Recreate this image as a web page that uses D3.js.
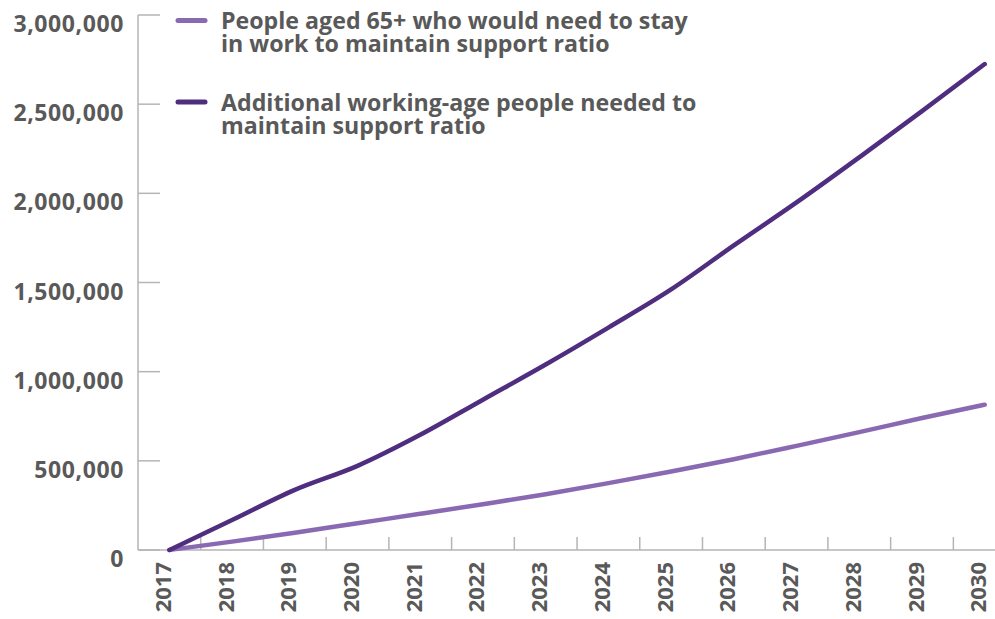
<!DOCTYPE html>
<html>
<head>
<meta charset="utf-8">
<script src="https://cdn.jsdelivr.net/npm/d3@7"></script>
<style>
  html, body { margin: 0; padding: 0; background: #fff; }
  svg { display: block; }
  text { font-family: "Open Sans", "DejaVu Sans", sans-serif; font-weight: 700; fill: #595959; }
</style>
</head>
<body>
<svg id="chart" width="995" height="619"></svg>
<script>
// Years on the horizontal axis
const years = ["2017","2018","2019","2020","2021","2022","2023","2024","2025","2026","2027","2028","2029","2030"];

// People aged 65+ who would need to stay in work
const olderWorkers = [0, 47000, 97000, 150000, 203000, 257000, 313000, 375000, 440000, 509000, 584000, 661000, 740000, 815000];

// Additional working-age people needed
const workingAge = [0, 168000, 337000, 472000, 646000, 843000, 1040000, 1247000, 1461000, 1708000, 1949000, 2202000, 2461000, 2725000];

const yTicks = [0, 500000, 1000000, 1500000, 2000000, 2500000, 3000000];

const seriesNames = [
  ["People aged 65+ who would need to stay", "in work to maintain support ratio"],
  ["Additional working-age people needed to", "maintain support ratio"]
];
const seriesColors = ["#8a69b3", "#4f2d7f"];

const svg = d3.select("#chart");
const axisColor = "#b5b5b5";

const plotLeft = 138, plotBottom = 550, plotTop = 15;
const step = 62.72;

const x = d3.scaleBand().domain(years).range([plotLeft, plotLeft + step * years.length]).padding(0);
const y = d3.scaleLinear().domain([0, 3000000]).range([plotBottom, plotTop]);
const cx = d => x(d) + x.bandwidth() / 2;

// Y axis: vertical rule with short inward ticks
svg.append("line")
  .attr("x1", plotLeft).attr("x2", plotLeft)
  .attr("y1", y(3000000)).attr("y2", plotBottom)
  .attr("stroke", axisColor).attr("stroke-width", 1.5);

svg.selectAll(".ytick").data(yTicks).join("line")
  .attr("class", "ytick")
  .attr("x1", plotLeft).attr("x2", plotLeft + 22)
  .attr("y1", d => y(d)).attr("y2", d => y(d))
  .attr("stroke", axisColor).attr("stroke-width", 1.5);

const fmt = d3.format(",");
svg.selectAll(".ylabel").data(yTicks).join("text")
  .attr("class", "ylabel")
  .attr("x", 124)
  .attr("y", d => y(d) + 17)
  .attr("text-anchor", "end")
  .style("font-size", "23px")
  .style("letter-spacing", "0.6px")
  .text(d => fmt(d));

// X axis: baseline with ticks between categories
svg.append("line")
  .attr("x1", plotLeft).attr("x2", 995)
  .attr("y1", plotBottom).attr("y2", plotBottom)
  .attr("stroke", axisColor).attr("stroke-width", 1.5);

svg.selectAll(".xtick").data(years.slice(1)).join("line")
  .attr("class", "xtick")
  .attr("x1", d => x(d)).attr("x2", d => x(d))
  .attr("y1", plotBottom - 13).attr("y2", plotBottom)
  .attr("stroke", axisColor).attr("stroke-width", 1.5);

svg.selectAll(".xlabel").data(years).join("text")
  .attr("class", "xlabel")
  .attr("transform", d => `translate(${cx(d) + 1.5},${plotBottom + 12}) rotate(-90)`)
  .attr("text-anchor", "end")
  .style("font-size", "22px")
  .text(d => d);

// Series lines
const line = d3.line()
  .x((d, i) => cx(years[i]))
  .y(d => y(d))
  .curve(d3.curveMonotoneX);

[olderWorkers, workingAge].forEach((vals, k) => {
  svg.append("path")
    .datum(vals)
    .attr("d", line)
    .attr("fill", "none")
    .attr("stroke", seriesColors[k])
    .attr("stroke-width", 4.5)
    .attr("stroke-linecap", "round")
    .attr("stroke-linejoin", "round");
});

// Legend
const legendY = [20.5, 102];
seriesNames.forEach((lines, k) => {
  const g = svg.append("g");
  g.append("line")
    .attr("x1", 178).attr("x2", 205)
    .attr("y1", legendY[k]).attr("y2", legendY[k])
    .attr("stroke", seriesColors[k])
    .attr("stroke-width", 5)
    .attr("stroke-linecap", "round");
  const t = g.append("text")
    .attr("x", 221)
    .attr("y", legendY[k] + 8.5)
    .style("font-size", "23.2px");
  lines.forEach((s, j) => {
    t.append("tspan").attr("x", 221).attr("dy", j === 0 ? 0 : 23).text(s);
  });
});
</script>
</body>
</html>
